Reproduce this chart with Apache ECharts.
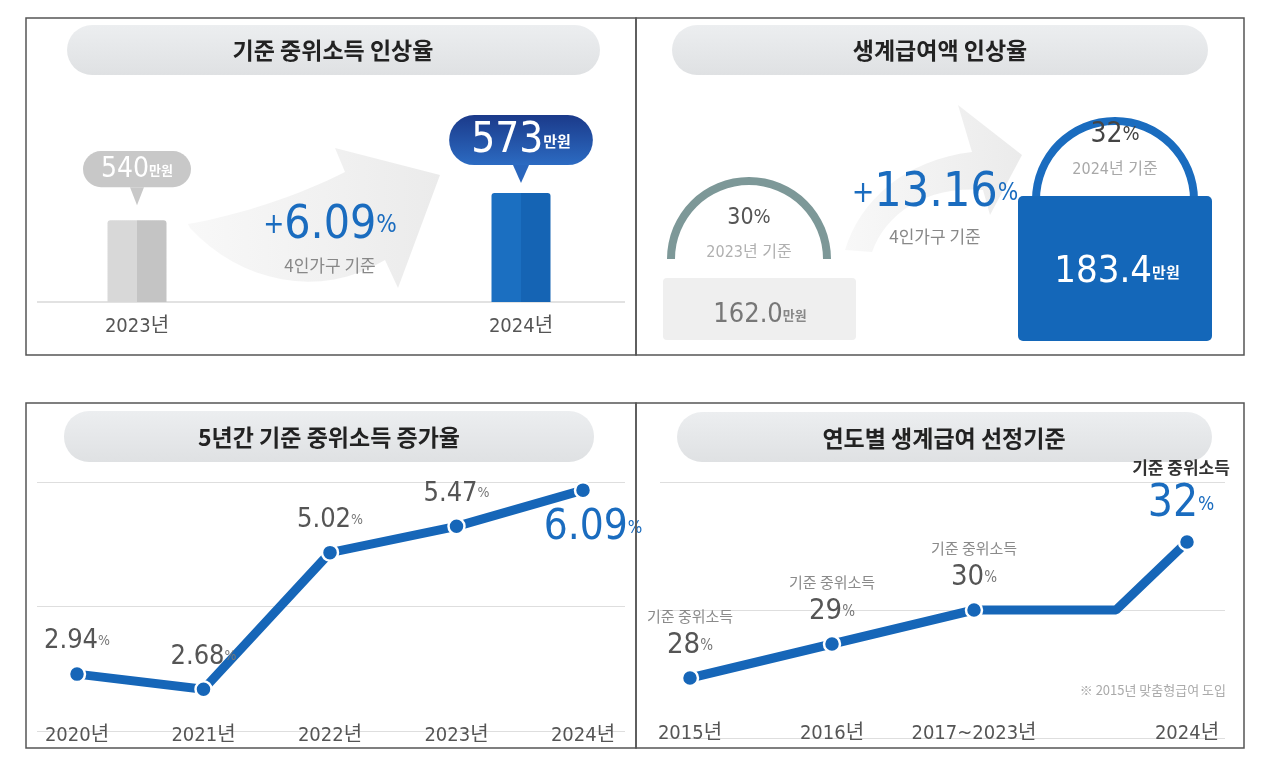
<!DOCTYPE html>
<html><head><meta charset="utf-8">
<script src="https://cdn.jsdelivr.net/npm/echarts@6/dist/echarts.min.js"></script>
<style>html,body{margin:0;padding:0;background:#fff}#c{width:1280px;height:774px}</style>
</head><body><div id="c"></div><script>
// ---------- data ----------
const panelTitles = ['기준 중위소득 인상율', '생계급여액 인상율', '5년간 기준 중위소득 증가율', '연도별 생계급여 선정기준'];
const incomeYears = ['2023년', '', '2024년'];
const incomeValues = [540, null, 573];
const unitWon = '만원';
const incomeRate = '6.09';
const householdNote = '4인가구 기준';
const benefitBasis = ['2023년 기준', '2024년 기준'];
const benefitPct = [30, 32];
const benefitAmount = ['162.0', '183.4'];
const benefitRate = '13.16';
const growthYears = ['2020년', '2021년', '2022년', '2023년', '2024년'];
const growthValues = [2.94, 2.68, 5.02, 5.47, 6.09];
const criteriaSlots = ['2015년', '', '2016년', '', '2017~2023년', '', '', '2024년'];
const criteriaValues = [28, null, 29, null, 30, null, 30, 32];
const criteriaLabel = '기준 중위소득';
const footnote = '※ 2015년 맞춤형급여 도입';

// ---------- style ----------
const FN = "'Liberation Sans Narrow','DejaVu Sans Condensed','Noto Sans CJK KR',sans-serif";
const FK = "'Noto Sans CJK KR','Noto Sans',sans-serif";
const BLUE = '#1a6cbf';
const LINE = '#1666b8';
const G = echarts.graphic;

function bez(p0, p1, p2, p3, n) {
  const pts = [];
  for (let i = 0; i <= n; i++) {
    const t = i / n, u = 1 - t;
    pts.push([
      u*u*u*p0[0] + 3*u*u*t*p1[0] + 3*u*t*t*p2[0] + t*t*t*p3[0],
      u*u*u*p0[1] + 3*u*u*t*p1[1] + 3*u*t*t*p2[1] + t*t*t*p3[1]
    ]);
  }
  return pts;
}
const arrowFill = new G.LinearGradient(0, 0, 1, 0, [{offset: 0, color: '#f8f8f8'}, {offset: 1, color: '#ebebeb'}]);
const arrowTL = [].concat(
  bez([188,224],[240,215],[300,195],[345,172], 16),
  [[335,148],[440,175],[398,288]],
  bez([385,260],[320,300],[240,282],[190,228], 16)
);
const arrowTR = [].concat(
  bez([845,250],[860,200],[905,160],[972,152], 16),
  [[958,105],[1022,155],[990,215]],
  bez([983,190],[925,185],[885,215],[872,252], 16)
);
const pillFill = new G.LinearGradient(0, 0, 0, 1, [{offset: 0, color: '#eceef0'}, {offset: 1, color: '#dfe1e3'}]);

function txt(x, y, text, style, z) {
  return {type: 'text', x: x, y: y, z: z || 20, silent: true,
    style: Object.assign({text: text, align: 'center', verticalAlign: 'middle'}, style)};
}

const graphics = [
  // panel borders
  {type: 'rect', z: 30, silent: true, shape: {x: 26, y: 18, width: 610, height: 337}, style: {fill: 'none', stroke: '#555', lineWidth: 1.5}},
  {type: 'rect', z: 30, silent: true, shape: {x: 636, y: 18, width: 608, height: 337}, style: {fill: 'none', stroke: '#555', lineWidth: 1.5}},
  {type: 'rect', z: 30, silent: true, shape: {x: 26, y: 403, width: 610, height: 345}, style: {fill: 'none', stroke: '#555', lineWidth: 1.5}},
  {type: 'rect', z: 30, silent: true, shape: {x: 636, y: 403, width: 608, height: 345}, style: {fill: 'none', stroke: '#555', lineWidth: 1.5}},
  // title pills
  {type: 'rect', z: 1, silent: true, shape: {x: 67, y: 25, width: 533, height: 50, r: 25}, style: {fill: pillFill}},
  {type: 'rect', z: 1, silent: true, shape: {x: 672, y: 25, width: 536, height: 50, r: 25}, style: {fill: pillFill}},
  {type: 'rect', z: 1, silent: true, shape: {x: 64, y: 411, width: 530, height: 51, r: 25}, style: {fill: pillFill}},
  {type: 'rect', z: 1, silent: true, shape: {x: 677, y: 412, width: 535, height: 50, r: 25}, style: {fill: pillFill}},
  txt(333, 50, panelTitles[0], {fontSize: 23, fontWeight: 'bold', fontFamily: FK, fill: '#222'}),
  txt(940, 50, panelTitles[1], {fontSize: 23, fontWeight: 'bold', fontFamily: FK, fill: '#222'}),
  txt(329, 437, panelTitles[2], {fontSize: 23, fontWeight: 'bold', fontFamily: FK, fill: '#222'}),
  txt(944, 438, panelTitles[3], {fontSize: 23, fontWeight: 'bold', fontFamily: FK, fill: '#222'}),
  // swoosh arrows
  {type: 'polygon', z: 0, silent: true, shape: {points: arrowTL}, style: {fill: arrowFill}},
  {type: 'polygon', z: 0, silent: true, shape: {points: arrowTR}, style: {fill: arrowFill}},
  // baseline top-left
  {type: 'line', z: 1, silent: true, shape: {x1: 37, y1: 302, x2: 625, y2: 302}, style: {stroke: '#d9d9d9', lineWidth: 1.5}},
  // rate texts
  txt(330, 226, '{p|+}{n|' + incomeRate + '}{u|%}', {rich: {
    p: {fontSize: 28, fill: BLUE, fontFamily: FN},
    n: {fontSize: 46, fill: BLUE, fontFamily: FN},
    u: {fontSize: 24, fill: BLUE, fontFamily: FN}}}),
  txt(330, 266, householdNote, {fontSize: 17, fontFamily: FK, fill: '#888'}),
  txt(935, 194, '{p|+}{n|' + benefitRate + '}{u|%}', {rich: {
    p: {fontSize: 30, fill: BLUE, fontFamily: FN},
    n: {fontSize: 48, fill: BLUE, fontFamily: FN},
    u: {fontSize: 24, fill: BLUE, fontFamily: FN}}}),
  txt(935, 237, householdNote, {fontSize: 17, fontFamily: FK, fill: '#888'}),
  // benefit amount boxes
  {type: 'rect', z: 10, silent: true, shape: {x: 663, y: 278, width: 193, height: 62, r: 4}, style: {fill: '#efefef'}},
  txt(760, 315, '{n|' + benefitAmount[0] + '}{u|' + unitWon + '}', {rich: {
    n: {fontSize: 27, fill: '#777', fontFamily: FN},
    u: {fontSize: 13, fill: '#888', fontFamily: FK, fontWeight: 'bold'}}}),
  {type: 'rect', z: 10, silent: true, shape: {x: 1018, y: 196, width: 194, height: 145, r: 5}, style: {fill: '#1467b9'}},
  txt(1117, 272, '{n|' + benefitAmount[1] + '}{u|' + unitWon + '}', {rich: {
    n: {fontSize: 38, fill: '#fff', fontFamily: FN},
    u: {fontSize: 15, fill: '#fff', fontFamily: FK, fontWeight: 'bold'}}}),
  // footnote
  {type: 'text', z: 20, silent: true, x: 1226, y: 690, style: {text: footnote, align: 'right', verticalAlign: 'middle', fontSize: 13, fontFamily: FK, fill: '#aaa'}}
];

const bubbleColors = ['#c8c8c8', null, new G.LinearGradient(0, 0, 0, 1, [{offset: 0, color: '#1b3a8a'}, {offset: 1, color: '#2c6bc2'}])];
const pointerColors = ['#c8c8c8', null, '#2a66bd'];
const barColors = [
  new G.LinearGradient(0, 0, 1, 0, [{offset: 0, color: '#d8d8d8'}, {offset: 0.5, color: '#d8d8d8'}, {offset: 0.5, color: '#c4c4c4'}, {offset: 1, color: '#c4c4c4'}]),
  null,
  new G.LinearGradient(0, 0, 1, 0, [{offset: 0, color: '#1b6fc1'}, {offset: 0.5, color: '#1b6fc1'}, {offset: 0.5, color: '#1564b4'}, {offset: 1, color: '#1564b4'}])
];
const bubbleCfg = [
  {distance: 33, r: 20, pad: [5, 18, 3, 18], n: 28, u: 13, size: [14, 18], off: -24},
  null,
  {distance: 28, r: 29, pad: [5, 22, 3, 22], n: 42, u: 15, size: [16, 18], off: -19}
];

const bgGridAxisY = (gi) => ({gridIndex: gi, type: 'value', min: 0, max: 2, interval: 1,
  axisLabel: {show: false}, axisLine: {show: false}, axisTick: {show: false},
  splitLine: {show: true, lineStyle: {color: '#dedede', width: 1.2}}});
const catAxis = (gi, data, margin, gap) => ({gridIndex: gi, type: 'category', data: data, boundaryGap: gap,
  axisLine: {show: false}, axisTick: {show: false}, splitLine: {show: false},
  axisLabel: {interval: 0, margin: margin, fontSize: 20, color: '#555', fontFamily: FN}});

const option = {
  animation: false,
  backgroundColor: '#fff',
  grid: [
    {left: 41, right: 663, top: 171, bottom: 472},
    {left: 37, right: 655, top: 482, bottom: 43},
    {left: 77, right: 697, top: 437, bottom: 45},
    {left: 660, right: 55, top: 482, bottom: 36},
    {left: 690, right: 93, top: 474, bottom: 62}
  ],
  xAxis: [
    catAxis(0, incomeYears, 15, true),
    {gridIndex: 1, type: 'value', min: 0, max: 1, show: false},
    catAxis(2, growthYears, -3, false),
    {gridIndex: 3, type: 'value', min: 0, max: 1, show: false},
    catAxis(4, criteriaSlots, 12, false)
  ],
  yAxis: [
    {gridIndex: 0, type: 'value', min: 440, max: 600, show: false},
    bgGridAxisY(1),
    {gridIndex: 2, type: 'value', min: 2, max: 7, show: false},
    bgGridAxisY(3),
    {gridIndex: 4, type: 'value', min: 27, max: 34, show: false}
  ],
  graphic: {elements: graphics},
  series: [
    {
      type: 'bar', xAxisIndex: 0, yAxisIndex: 0, barWidth: 59, z: 3,
      data: incomeValues.map((v, i) => v === null ? '-' : ({
        value: v,
        itemStyle: {color: barColors[i], borderRadius: [3, 3, 0, 0]},
        label: {
          show: true, position: 'top', distance: bubbleCfg[i].distance,
          formatter: '{n|{c}}{u|' + unitWon + '}',
          backgroundColor: bubbleColors[i], borderRadius: bubbleCfg[i].r, padding: bubbleCfg[i].pad,
          rich: {
            n: {fontSize: bubbleCfg[i].n, color: '#fff', fontFamily: FN},
            u: {fontSize: bubbleCfg[i].u, color: '#fff', fontFamily: FK, fontWeight: 'bold'}
          }
        }
      })),
      markPoint: {
        symbol: 'triangle', symbolRotate: 180, silent: true, label: {show: false},
        data: incomeValues.map((v, i) => v === null ? null : ({
          coord: [incomeYears[i], v],
          symbolSize: bubbleCfg[i].size,
          symbolOffset: [0, bubbleCfg[i].off],
          itemStyle: {color: pointerColors[i]}
        })).filter(d => d)
      }
    },
    {
      type: 'gauge', center: [749, 259], radius: 82, startAngle: 180, endAngle: 0, min: 0, max: 100,
      axisLine: {lineStyle: {width: 8, color: [[1, '#7d9898']]}},
      splitLine: {show: false}, axisTick: {show: false}, axisLabel: {show: false},
      pointer: {show: false}, anchor: {show: false}, progress: {show: false},
      title: {offsetCenter: [0, '-8%'], fontSize: 16, color: '#b0b0b0', fontFamily: FN, fontWeight: 'normal'},
      detail: {offsetCenter: [0, '-50%'], fontWeight: 'normal', formatter: v => '{v|' + v + '}{p|%}',
        rich: {v: {fontSize: 23, color: '#555', fontFamily: FN, fontWeight: 'normal'}, p: {fontSize: 20, color: '#555', fontFamily: FN, fontWeight: 'normal'}}},
      data: [{value: benefitPct[0], name: benefitBasis[0]}]
    },
    {
      type: 'gauge', center: [1115, 200], radius: 83, startAngle: 180, endAngle: 0, min: 0, max: 100,
      axisLine: {lineStyle: {width: 8, color: [[1, BLUE]]}},
      splitLine: {show: false}, axisTick: {show: false}, axisLabel: {show: false},
      pointer: {show: false}, anchor: {show: false}, progress: {show: false},
      title: {offsetCenter: [0, '-36%'], fontSize: 16, color: '#a8a8a8', fontFamily: FN, fontWeight: 'normal'},
      detail: {offsetCenter: [0, '-79%'], fontWeight: 'normal', formatter: v => '{v|' + v + '}{p|%}',
        rich: {v: {fontSize: 28, color: '#444', fontFamily: FN, fontWeight: 'normal'}, p: {fontSize: 20, color: '#444', fontFamily: FN, fontWeight: 'normal'}}},
      data: [{value: benefitPct[1], name: benefitBasis[1]}]
    },
    {
      type: 'line', xAxisIndex: 2, yAxisIndex: 2, clip: false, z: 4,
      symbol: 'circle', symbolSize: 16,
      lineStyle: {width: 9, color: LINE},
      itemStyle: {color: LINE, borderColor: '#fff', borderWidth: 2.5},
      label: {show: true, position: 'top', distance: 10,
        formatter: p => '{n|' + p.value.toFixed(2) + '}{u|%}',
        rich: {n: {fontSize: 27, color: '#555', fontFamily: FN}, u: {fontSize: 14, color: '#777', fontFamily: FN}}},
      data: growthValues.map((v, i) => i === growthValues.length - 1 ? {
        value: v,
        label: {position: 'bottom', distance: 8, offset: [10, 0],
          formatter: p => '{n|' + p.value.toFixed(2) + '}{u|%}',
          rich: {n: {fontSize: 42, color: BLUE, fontFamily: FN}, u: {fontSize: 17, color: BLUE, fontFamily: FN}}}
      } : v)
    },
    {
      type: 'line', xAxisIndex: 4, yAxisIndex: 4, clip: false, z: 4, connectNulls: true,
      symbol: 'circle', symbolSize: 16,
      lineStyle: {width: 9, color: LINE},
      itemStyle: {color: LINE, borderColor: '#fff', borderWidth: 2.5},
      label: {show: true, position: 'top', distance: 6, align: 'center',
        formatter: p => '{a|' + criteriaLabel + '}\n{n|' + p.value + '}{u|%}',
        rich: {a: {fontSize: 15, color: '#8a8a8a', fontFamily: FK, lineHeight: 24, align: 'center'},
               n: {fontSize: 29, color: '#555', fontFamily: FN, lineHeight: 34},
               u: {fontSize: 15, color: '#777', fontFamily: FN, lineHeight: 34}}},
      data: criteriaValues.map((v, i) => {
        if (v === null) return '-';
        if (i === 6) return {value: v, symbol: 'none', label: {show: false}};
        if (i === criteriaValues.length - 1) return {
          value: v,
          label: {distance: 4, offset: [-6, 0],
            formatter: p => '{a|' + criteriaLabel + '}\n{n|' + p.value + '}{u|%}',
            rich: {a: {fontSize: 17, color: '#333', fontWeight: 'bold', fontFamily: FK, lineHeight: 26, align: 'center'},
                   n: {fontSize: 44, color: BLUE, fontFamily: FN, lineHeight: 48},
                   u: {fontSize: 19, color: BLUE, fontFamily: FN, lineHeight: 48}}}
        };
        return v;
      })
    }
  ]
};

const chart = echarts.init(document.getElementById('c'), null, {renderer: 'canvas'});
chart.setOption(option);
</script></body></html>
